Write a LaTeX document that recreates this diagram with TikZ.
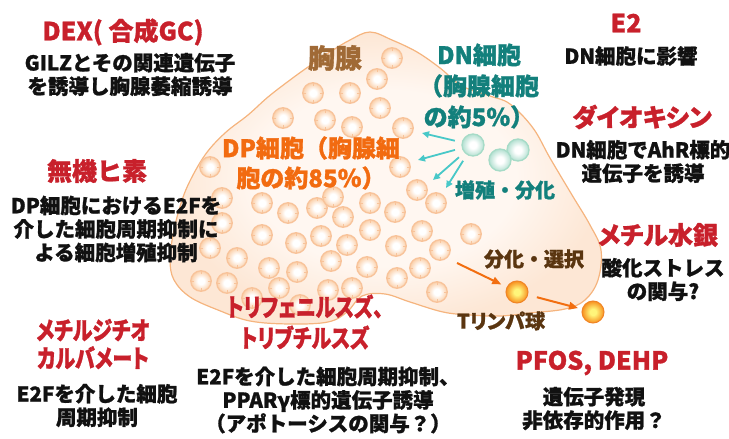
\documentclass[tikz,border=0pt]{standalone}
\usepackage{graphicx}
\usepackage{fontspec}
\setmainfont{Noto Sans CJK JP}[BoldFeatures={FakeBold=1.2}]
\usetikzlibrary{arrows.meta, positioning}

\definecolor{cRed}{HTML}{C8202B}
\definecolor{cText}{HTML}{111111}
\definecolor{cThymusFill}{HTML}{FDE7D5}
\definecolor{cThymusCore}{HTML}{FFF7F1}
\definecolor{cThymusLine}{HTML}{F5B47E}
\definecolor{cThymusLbl}{HTML}{A06A36}
\definecolor{cCellRim}{HTML}{F8C39A}
\definecolor{cCellFill}{HTML}{FBCFA8}
\definecolor{cDnRim}{HTML}{A6DBC7}
\definecolor{cDnFill}{HTML}{B3E0D1}
\definecolor{cDnText}{HTML}{13807C}
\definecolor{cDnArrow}{HTML}{48C8C8}
\definecolor{cDpText}{HTML}{F26B10}
\definecolor{cTFill}{HTML}{F7901F}
\definecolor{cTCore}{HTML}{FFF57A}
\definecolor{cTRim}{HTML}{F08526}
\definecolor{cTArrow}{HTML}{F26E10}
\definecolor{cBrown}{HTML}{5A3510}

% soft glows for the cells and the organ (path box = inner 50bp square)
\pgfdeclareradialshading{cellglow}{\pgfpoint{0bp}{0bp}}{color(0bp)=(white); color(8bp)=(white); color(25bp)=(cCellFill); color(50bp)=(cCellFill)}
\pgfdeclareradialshading{dnglow}{\pgfpoint{0bp}{0bp}}{color(0bp)=(white); color(8bp)=(white); color(25bp)=(cDnFill); color(50bp)=(cDnFill)}
\pgfdeclareradialshading{tglow}{\pgfpoint{0bp}{0bp}}{color(0bp)=(cTCore); color(7bp)=(cTCore); color(25bp)=(cTFill); color(50bp)=(cTFill)}
\pgfdeclareradialshading{thymusglow}{\pgfpoint{0bp}{0bp}}{color(0bp)=(cThymusCore); color(15bp)=(cThymusCore); color(25bp)=(cThymusFill); color(50bp)=(cThymusFill)}

% proportional kana, and a narrowed variant
\newcommand{\pk}[1]{{\addfontfeature{RawFeature=+palt}#1}}
\newcommand{\nk}[1]{\scalebox{0.8}[1]{\pk{#1}}}

\begin{document}
\begin{tikzpicture}[
    x=1pt, y=-1pt,
    >=Stealth,
    % Text styles
    title/.style={text=cRed, font=\fontsize{25}{31}\selectfont\bfseries, align=center, inner sep=0pt},
    note/.style={text=cText, font=\fontsize{20.5}{23.5}\selectfont\bfseries, align=center, inner sep=0pt},
    organ_lbl/.style={text=cThymusLbl, font=\fontsize{27}{30}\selectfont\bfseries, inner sep=0pt},
    dn_lbl/.style={text=cDnText, font=\fontsize{24}{31}\selectfont\bfseries, align=center, inner sep=0pt},
    dp_lbl/.style={text=cDpText, font=\fontsize{24}{30}\selectfont\bfseries, align=center, inner sep=0pt},
    t_lbl/.style={text=cBrown, font=\fontsize{20}{24}\selectfont\bfseries, inner sep=0pt},
    % Cell styles
    cell/.style={circle, draw=cCellRim, line width=1.3pt, shading=cellglow, minimum size=20.5pt, inner sep=0pt,
        path picture={\foreach \a in {0,90,180,270} \draw[cCellRim, line width=0.9pt] (path picture bounding box.center) ++(\a:7pt) -- ++(\a:4pt);}},
    dn_cell/.style={circle, draw=cDnRim, line width=1.3pt, shading=dnglow, minimum size=22pt, inner sep=0pt},
    t_cell/.style={circle, draw=cTRim, line width=1pt, shading=tglow, minimum size=22pt, inner sep=0pt},
    % Arrow styles
    dn_arrow/.style={->, draw=cDnArrow, line width=1.8pt, shorten <=7pt, >={Triangle[length=7pt, width=6.5pt]}},
    t_arrow/.style={->, draw=cTArrow, line width=2pt, >={Triangle[length=9pt, width=7.5pt]}}
]
\useasboundingbox (0,0) rectangle (729,439);

% --- THYMUS ---
\path[shading=thymusglow, draw=cThymusLine, line width=1.2pt] plot[smooth cycle, tension=0.6] coordinates {
    (370,32) (392,40) (417,52) (440,68) (462,86) (490,96) (510,104) (533,128) (550,158)
    (572,195) (590,225) (601,250) (598,280) (585,300) (565,309) (530,313) (500,316)
    (470,315) (443,312) (410,302) (385,294) (362,296) (347,312) (328,322) (290,324)
    (250,321) (218,310) (190,297) (174,280) (170,260) (173,235) (179,210) (188,185)
    (205,155) (225,133) (248,115) (268,97) (290,80) (308,67) (330,52) (350,40)};

% DP cells
\foreach \x/\y [count=\i] in {392/58, 377/79, 313/93, 350/93, 380/108, 283/118, 325/120, 352/127, 403/128,
    210/167, 400/167, 417/190, 436/203, 222/198, 262/203, 288/213, 317/208, 333/197, 343/217,
    370/203, 395/212, 222/223, 262/235, 296/243, 321/236, 347/245, 370/230, 396/246, 422/231,
    210/248, 237/258, 269/268, 297/272, 331/261, 367/267, 397/278, 420/268, 440/250,
    201/281, 227/283, 279/288, 328/290, 352/288, 437/292, 252/298, 300/305, 471/234}
    \node[cell] (c\i) at (\x,\y) {};

% DN cells
\node[dn_cell] (dn3) at (518,150) {};
\node[dn_cell] (dn2) at (500,160) {};
\node[dn_cell] (dn1) at (473,145) {};

\coordinate (dn_to_a) at (422,133);
\coordinate (dn_to_b) at (418,160);
\coordinate (dn_to_c) at (433,180);
\coordinate (dn_to_d) at (446,188);
\foreach \e in {dn_to_a, dn_to_b, dn_to_c, dn_to_d}
    \draw[dn_arrow] (dn1) -- (\e);

% T cells
\node[t_cell] (t1) at (517,292) {};
\node[t_cell] (t2) at (593,312) {};
\coordinate (sel_from) at (457,263);
\draw[t_arrow, shorten >=6pt] (sel_from) -- (t1);
\draw[t_arrow, shorten <=9pt, shorten >=4pt] (t1) -- (t2);

% --- LABELS INSIDE ---
\node[organ_lbl] (thymus_lbl) at (335,58) {胸腺};
\node[dn_lbl] (dn_lbl) at (479,86) {DN細胞\\（胸腺細胞\\の約5％）};
\node[dn_lbl, font=\fontsize{20}{24}\selectfont\bfseries] (prolif_lbl) at (505,190) {増殖・分化};
\node[dp_lbl] (dp_lbl) at (311,163) {DP細胞（胸腺細\\胞の約85％）};
\node[t_lbl] (select_lbl) at (534,259) {分化・選択};
\node[t_lbl] (tcell_lbl) at (501,321) {T\pk{リンパ}球};

% --- SUBSTANCES ---
\node[title] (dex_title) at (123,32) {DEX( 合成GC)};
\node[note] (dex_note) at (130,74.5) {GILZとその関連遺伝子\\を誘導し胸腺萎縮誘導};

\node[title] (e2_title) at (626,23) {E2};
\node[note] (e2_note) at (631,56) {DN細胞に影響};

\node[title] (dioxin_title) at (642,117) {\pk{ダイオキシン}};
\node[note] (dioxin_note) at (643,161.5) {DN細胞でAhR標的\\遺伝子を誘導};

\node[title] (ars_title) at (97,171) {無機ヒ素};
\node[note] (ars_note) at (116,229) {DP細胞におけるE2Fを\\介した細胞周期抑制に\\よる細胞増殖抑制};

\node[title] (hg_title) at (658,235) {\pk{メチル}水銀};
\node[note] (hg_note) at (663,279.5) {酸化ストレス\\の関与?};

\node[title, font=\fontsize{25}{28}\selectfont\bfseries] (dtc_title) at (93,344) {\nk{メチルジチオ}\\\nk{カルバメート}};
\node[note] (dtc_note) at (97,405.5) {E2Fを介した細胞\\周期抑制};

\node[title] (tin_title) at (305,322) {\nk{トリフェニルスズ、}\\\nk{トリブチルスズ}};
\node[note] (tin_note) at (328,400) {E2Fを介した細胞周期抑制、\\PPARγ標的遺伝子誘導\\（アポトーシスの関与？）};

\node[title] (pfos_title) at (592,363) {PFOS, DEHP};
\node[note] (pfos_note) at (594,408.5) {遺伝子発現\\非依存的作用？};

\end{tikzpicture}
\end{document}
